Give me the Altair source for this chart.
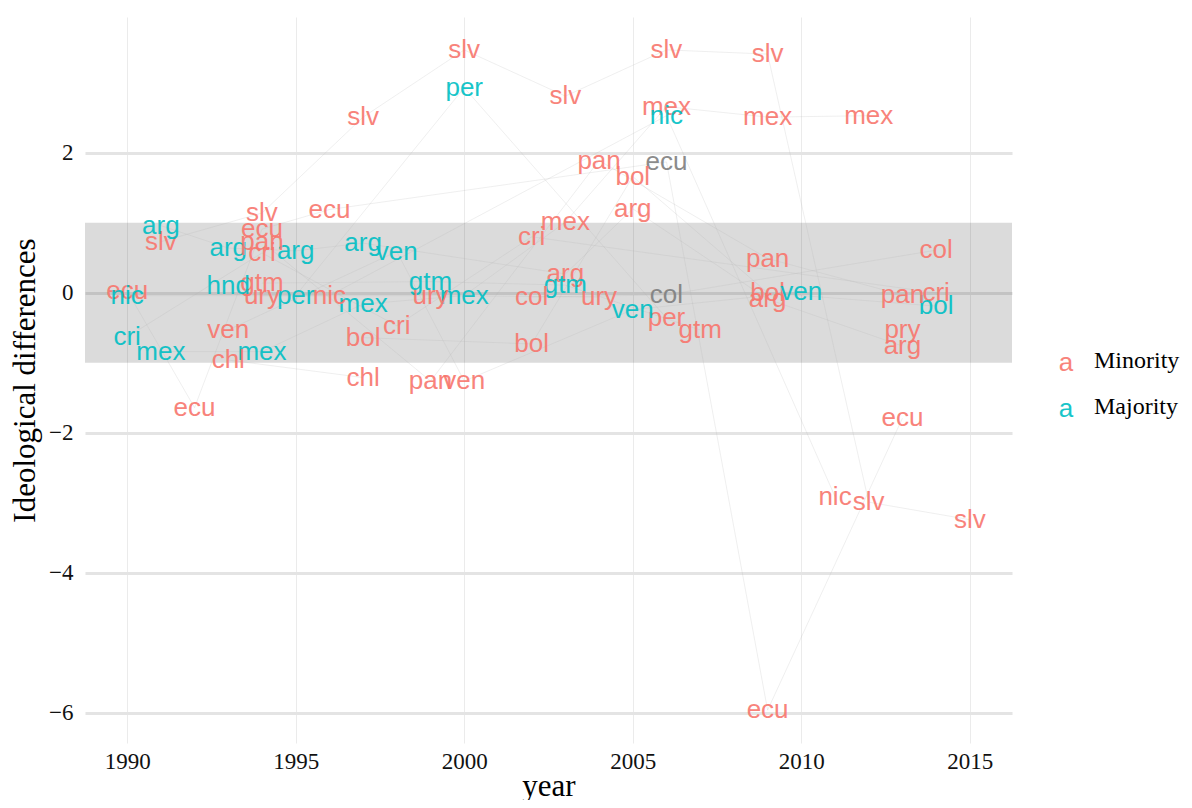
import altair as alt
import pandas as pd

# ---- data ----
countries = (
    ["slv"] * 9 + ["ecu"] * 7 + ["mex"] * 8 + ["nic"] * 4 + ["per"] * 3 +
    ["arg"] * 8 + ["gtm"] * 4 + ["cri"] * 5 + ["bol"] * 5 + ["pan"] * 5 +
    ["ven"] * 5 + ["chl"] * 2 + ["col"] * 3 + ["ury"] * 3 + ["hnd"] + ["pry"]
)
years = [
    1991, 1994, 1997, 2000, 2003, 2006, 2009, 2012, 2015,          # slv
    1990, 1992, 1994, 1996, 2006, 2009, 2013,                      # ecu
    1991, 1994, 1997, 2000, 2003, 2006, 2009, 2012,                # mex
    1990, 1996, 2006, 2011,                                        # nic
    1995, 2000, 2006,                                              # per
    1991, 1993, 1995, 1997, 2003, 2005, 2009, 2013,                # arg
    1994, 1999, 2003, 2007,                                        # gtm
    1990, 1994, 1998, 2002, 2014,                                  # cri
    1997, 2002, 2005, 2009, 2014,                                  # bol
    1994, 1999, 2004, 2009, 2013,                                  # pan
    1993, 1998, 2000, 2005, 2010,                                  # ven
    1993, 1997,                                                    # chl
    2002, 2006, 2014,                                              # col
    1994, 1999, 2004,                                              # ury
    1993,                                                          # hnd
    2013,                                                          # pry
]
values = [
    0.73, 1.14, 2.51, 3.47, 2.81, 3.47, 3.41, -2.99, -3.24,
    0.03, -1.64, 0.91, 1.19, 1.87, -5.96, -1.79,
    -0.84, -0.84, -0.16, -0.04, 1.01, 2.66, 2.51, 2.53,
    -0.04, -0.04, 2.53, -2.91,
    -0.04, 2.93, -0.36,
    0.96, 0.64, 0.60, 0.71, 0.27, 1.20, -0.09, -0.76,
    0.14, 0.16, 0.11, -0.53,
    -0.63, 0.57, -0.47, 0.80, 0.00,
    -0.64, -0.73, 1.66, 0.00, -0.19,
    0.73, -1.26, 1.89, 0.49, -0.03,
    -0.53, 0.59, -1.26, -0.24, 0.01,
    -0.96, -1.21,
    -0.06, -0.03, 0.61,
    -0.04, -0.04, -0.06,
    0.10,
    -0.53,
]
status = [
    "Minority"] * 9 + [
    "Minority", "Minority", "Minority", "Minority", "NA", "Minority", "Minority"] + [
    "Majority", "Majority", "Majority", "Majority", "Minority", "Minority", "Minority", "Minority"] + [
    "Majority", "Minority", "Majority", "Minority"] + [
    "Majority", "Majority", "Minority"] + [
    "Majority", "Majority", "Majority", "Majority", "Minority", "Minority", "Minority", "Minority"] + [
    "Minority", "Majority", "Majority", "Minority"] + [
    "Majority", "Minority", "Minority", "Minority", "Minority"] + [
    "Minority", "Minority", "Minority", "Minority", "Majority"] + [
    "Minority"] * 5 + [
    "Minority", "Majority", "Minority", "Majority", "Majority"] + [
    "Minority", "Minority"] + [
    "Minority", "NA", "Minority"] + [
    "Minority"] * 3 + [
    "Majority"] + [
    "Minority"]

status_domain = ["Minority", "Majority", "NA"]
status_colors = ["#F8766D", "#00BFC4", "#7F7F7F"]
legend_labels = ["Minority", "Majority"]

x_ticks = [1990, 1995, 2000, 2005, 2010, 2015]
y_ticks = [-6, -4, -2, 0, 2]
x_domain = [1988.75, 2016.25]
y_domain = [-6.43, 3.94]
band_range = [-1, 1]

df = pd.DataFrame({"country": countries, "year": years, "value": values, "status": status})
band_df = pd.DataFrame({"x0": [x_domain[0]], "x1": [x_domain[1]], "lo": [band_range[0]], "hi": [band_range[1]]})

serif = "Liberation Serif"

x_scale = alt.Scale(domain=x_domain, nice=False, zero=False)
y_scale = alt.Scale(domain=y_domain, nice=False, zero=False)

x_axis = alt.Axis(
    values=x_ticks, format="d", title="year", grid=True, gridColor="#ebebeb", gridWidth=1,
    domain=False, ticks=False, labelFont=serif, labelFontSize=23, labelColor="#111111",
    labelPadding=7, titleFont=serif, titleFontSize=31, titleFontWeight="normal",
    titleColor="#000000", titleBaseline="alphabetic", titleY=52, labelFlush=False,
)
y_axis = alt.Axis(
    values=y_ticks, title="Ideological differences", grid=True, gridColor="#e4e4e4", gridWidth=3,
    domain=False, ticks=False, labelFont=serif, labelFontSize=23, labelColor="#111111",
    labelPadding=12, titleFont=serif, titleFontSize=31, titleFontWeight="normal",
    titleColor="#000000", titleX=-60, titleBaseline="middle",
)

band = alt.Chart(band_df).mark_rect(color="#000000", opacity=0.14).encode(
    x=alt.X("x0:Q", scale=x_scale, axis=x_axis),
    x2="x1:Q",
    y=alt.Y("lo:Q", scale=y_scale, axis=y_axis),
    y2="hi:Q",
)

lines = alt.Chart(df).mark_line(stroke="#b0b0b0", strokeWidth=0.6, opacity=0.35).encode(
    x=alt.X("year:Q", scale=x_scale, axis=x_axis),
    y=alt.Y("value:Q", scale=y_scale, axis=y_axis),
    detail="country:N",
    order="year:Q",
)

labels = alt.Chart(df).mark_text(
    font="Liberation Sans", fontSize=26, opacity=0.9, baseline="middle", align="center"
).encode(
    x=alt.X("year:Q", scale=x_scale, axis=x_axis),
    y=alt.Y("value:Q", scale=y_scale, axis=y_axis),
    text="country:N",
    color=alt.Color("status:N", scale=alt.Scale(domain=status_domain, range=status_colors), legend=None),
)

legend_layers = []
for i, (lab, col) in enumerate(zip(legend_labels, status_colors[:2])):
    ldf = pd.DataFrame({"label": [lab], "glyph": ["a"]})
    ypix = 346 + 46 * i
    legend_layers.append(
        alt.Chart(ldf).mark_text(font="Liberation Sans", fontSize=26, color=col, align="center",
                                 baseline="middle", opacity=0.9).encode(
            text="glyph:N", x=alt.value(981), y=alt.value(ypix))
    )
    legend_layers.append(
        alt.Chart(ldf).mark_text(font=serif, fontSize=24, color="#000000", align="left",
                                 baseline="middle").encode(
            text="label:N", x=alt.value(1009), y=alt.value(ypix - 2))
    )

chart = alt.layer(band, lines, labels, *legend_layers).properties(
    width=927, height=726,
    autosize=alt.AutoSizeParams(type="none"),
    padding={"left": 77, "top": 9, "right": 172, "bottom": 57},
    background="white",
).configure_view(stroke=None)

chart.save("out.html", embed_options={"renderer": "svg", "actions": False})
